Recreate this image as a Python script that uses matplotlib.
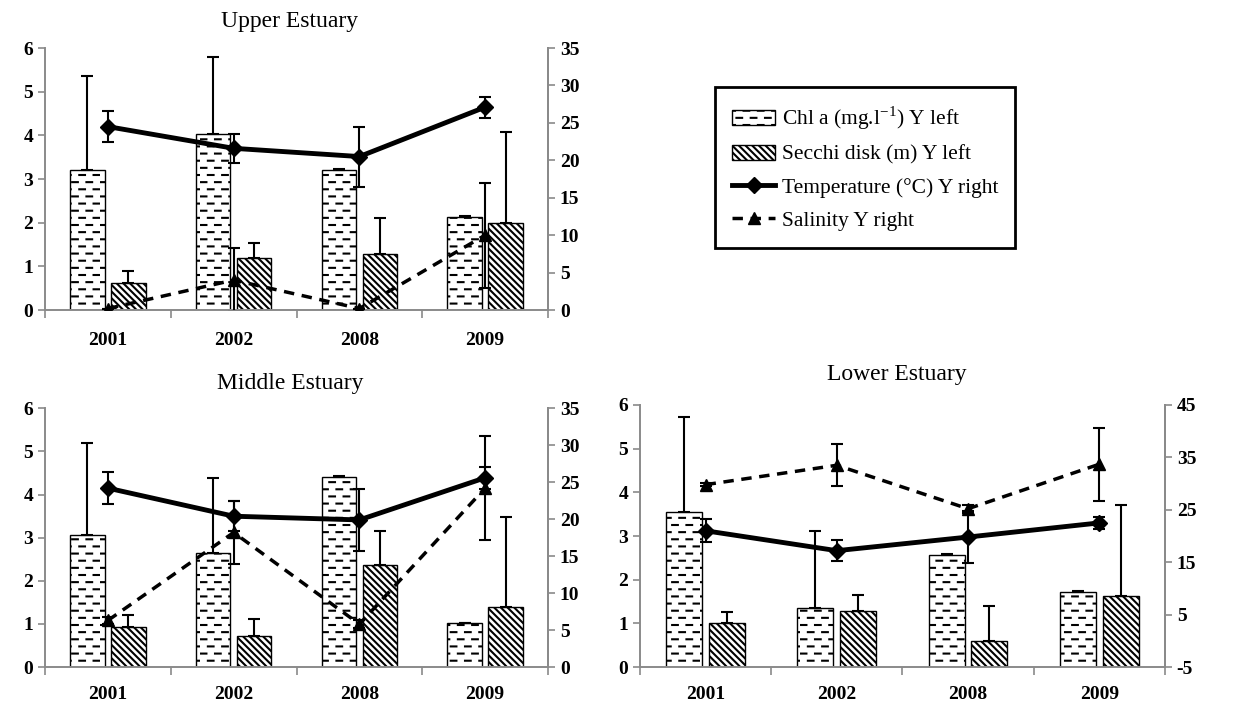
import warnings
import numpy as np
import matplotlib
matplotlib.use("Agg")
import matplotlib.pyplot as plt
import matplotlib.hatch as mhatch
from matplotlib.path import Path

warnings.filterwarnings("ignore", message=".*hatch must consist.*")

plt.rcParams["font.family"] = ["Liberation Serif", "DejaVu Serif"]
plt.rcParams["mathtext.fontset"] = "custom"
plt.rcParams["mathtext.rm"] = "Liberation Serif"
plt.rcParams["axes.unicode_minus"] = False
plt.rcParams["hatch.linewidth"] = 1.5

years = ["2001", "2002", "2008", "2009"]

# Upper Estuary
chl_up = [3.20, 4.03, 3.20, 2.12]
chl_up_err = [2.17, 1.77, 0.03, 0.03]
sec_up = [0.61, 1.19, 1.29, 2.00]
sec_up_err = [0.29, 0.35, 0.82, 2.08]
temp_up = [24.5, 21.6, 20.5, 27.1]
temp_up_err = [2.1, 1.9, 4.0, 1.4]
sal_up = [0.2, 4.0, 0.2, 10.0]
sal_up_err = [0.0, 4.3, 0.0, 7.0]

# Middle Estuary
chl_mid = [3.05, 2.64, 4.40, 1.01]
chl_mid_err = [2.15, 1.74, 0.02, 0.02]
sec_mid = [0.93, 0.73, 2.37, 1.39]
sec_mid_err = [0.27, 0.39, 0.79, 2.08]
temp_mid = [24.2, 20.4, 19.9, 25.6]
temp_mid_err = [2.2, 2.0, 4.2, 1.5]
sal_mid = [6.3, 18.2, 5.8, 24.2]
sal_mid_err = [0.5, 4.2, 0.5, 7.0]

# Lower Estuary
chl_low = [3.55, 1.36, 2.57, 1.71]
chl_low_err = [2.18, 1.75, 0.02, 0.02]
sec_low = [1.00, 1.29, 0.59, 1.63]
sec_low_err = [0.25, 0.36, 0.81, 2.08]
temp_low = [21.0, 17.2, 19.8, 22.5]
temp_low_err = [2.2, 2.0, 5.0, 1.2]
sal_low = [29.8, 33.5, 25.2, 33.7]
sal_low_err = [0.3, 4.0, 0.8, 7.0]


class DashHatch(mhatch.HatchPatternBase):
    """staggered short dashes, one pattern for any 'd' in the hatch string"""
    rows = 14
    per_row = 7

    def __init__(self, hatch, density):
        self.num_lines = self.rows * self.per_row if "d" in hatch else 0
        self.num_vertices = self.num_lines * 2

    def set_vertices_and_codes(self, vertices, codes):
        k = 0
        for i in range(self.rows):
            y = (i + 0.5) / self.rows
            off = 0.55 if i % 2 else 0.05
            for j in range(self.per_row):
                x0 = (j + off) / self.per_row
                vertices[k] = (x0, y)
                vertices[k + 1] = (x0 + 0.4 / self.per_row, y)
                codes[k] = Path.MOVETO
                codes[k + 1] = Path.LINETO
                k += 2


mhatch._hatch_types.append(DashHatch)

GREY = "#8a8a8a"


def draw_panel(ax, chl, chl_err, sec, sec_err, temp, temp_err, sal, sal_err,
               rlim, rticks, label_pad=14):
    x = np.arange(len(years)) + 0.5
    w = 0.275
    zeros = np.zeros(len(years))
    b1 = ax.bar(x - 0.163, chl, w, color="white", edgecolor="black",
                linewidth=1.0, hatch="d", zorder=2)
    ax.errorbar(x - 0.163, chl, yerr=[zeros, chl_err], fmt="none",
                ecolor="black", elinewidth=1.5, capsize=4, capthick=1.5, zorder=3)
    b2 = ax.bar(x + 0.163, sec, w, color="white", edgecolor="black",
                linewidth=1.0, hatch="\\\\\\\\\\", zorder=2)
    ax.errorbar(x + 0.163, sec, yerr=[zeros, sec_err], fmt="none",
                ecolor="black", elinewidth=1.5, capsize=4, capthick=1.5, zorder=3)
    ax.set_xlim(0, len(years))
    ax.set_ylim(0, 6)
    ax.set_yticks(range(7))
    ax.set_xticks(range(len(years) + 1), labels=[])
    ax.set_xticks(x, labels=years, minor=True)
    ax.tick_params(axis="x", which="major", length=6, width=1.2, color=GREY)
    ax.tick_params(axis="x", which="minor", length=0, pad=label_pad, labelsize=14)
    ax.tick_params(axis="y", length=5, width=1.2, color=GREY, labelsize=14)
    for lab in ax.get_xticklabels(minor=True) + ax.get_yticklabels():
        lab.set_fontweight("bold")
    ax.spines["top"].set_visible(False)
    for s in ["left", "bottom", "right"]:
        ax.spines[s].set_color(GREY)
        ax.spines[s].set_linewidth(1.4)

    ax2 = ax.twinx()
    t = ax2.errorbar(x, temp, yerr=temp_err, color="black", linewidth=3.5,
                     marker="D", markersize=8, ecolor="black", elinewidth=1.5,
                     capsize=4, capthick=1.5)
    s = ax2.errorbar(x, sal, yerr=sal_err, color="black", linewidth=2.5,
                     dashes=(3, 2.2), marker="^", markersize=9, ecolor="black",
                     elinewidth=1.5, capsize=4, capthick=1.5)
    ax2.set_ylim(*rlim)
    ax2.set_yticks(rticks)
    ax2.tick_params(axis="y", length=5, width=1.2, color=GREY, labelsize=14)
    for lab in ax2.get_yticklabels():
        lab.set_fontweight("bold")
    for sp in ["top", "left", "bottom"]:
        ax2.spines[sp].set_visible(False)
    ax2.spines["right"].set_color(GREY)
    ax2.spines["right"].set_linewidth(1.4)
    return [b1, b2, t.lines[0], s.lines[0]]


fig = plt.figure(figsize=(12.34, 7.03), dpi=100)

ax_up = fig.add_axes([0.0365, 0.559, 0.4076, 0.3727])
ax_mid = fig.add_axes([0.0365, 0.0512, 0.4076, 0.368])
ax_low = fig.add_axes([0.5186, 0.0512, 0.4254, 0.3727])

handles = draw_panel(ax_up, chl_up, chl_up_err, sec_up, sec_up_err,
                     temp_up, temp_up_err, sal_up, sal_up_err,
                     (0, 35), range(0, 36, 5), label_pad=16)
draw_panel(ax_mid, chl_mid, chl_mid_err, sec_mid, sec_mid_err,
           temp_mid, temp_mid_err, sal_mid, sal_mid_err,
           (0, 35), range(0, 36, 5))
draw_panel(ax_low, chl_low, chl_low_err, sec_low, sec_low_err,
           temp_low, temp_low_err, sal_low, sal_low_err,
           (-5, 45), range(-5, 46, 10))

fig.text(290 / 1234, 1 - 22 / 703, "Upper Estuary", ha="center", va="center", fontsize=17)
fig.text(290 / 1234, 1 - 383 / 703, "Middle Estuary", ha="center", va="center", fontsize=17)
fig.text(897 / 1234, 1 - 375 / 703, "Lower Estuary", ha="center", va="center", fontsize=17)

labels = ["Chl a (mg.l$^{\\mathrm{-1}}$) Y left", "Secchi disk (m) Y left",
          "Temperature (\u00b0C) Y right", "Salinity Y right"]
leg = fig.legend(handles, labels, loc="upper left",
                 bbox_to_anchor=(715 / 1234, 1 - 87 / 703), borderaxespad=0,
                 fontsize=15.5, frameon=True, fancybox=False, framealpha=1,
                 edgecolor="black", handlelength=2.0, handletextpad=0.3,
                 labelspacing=0.6, borderpad=0.8)
leg.get_frame().set_linewidth(2)

fig.savefig("out.png", dpi=100)
